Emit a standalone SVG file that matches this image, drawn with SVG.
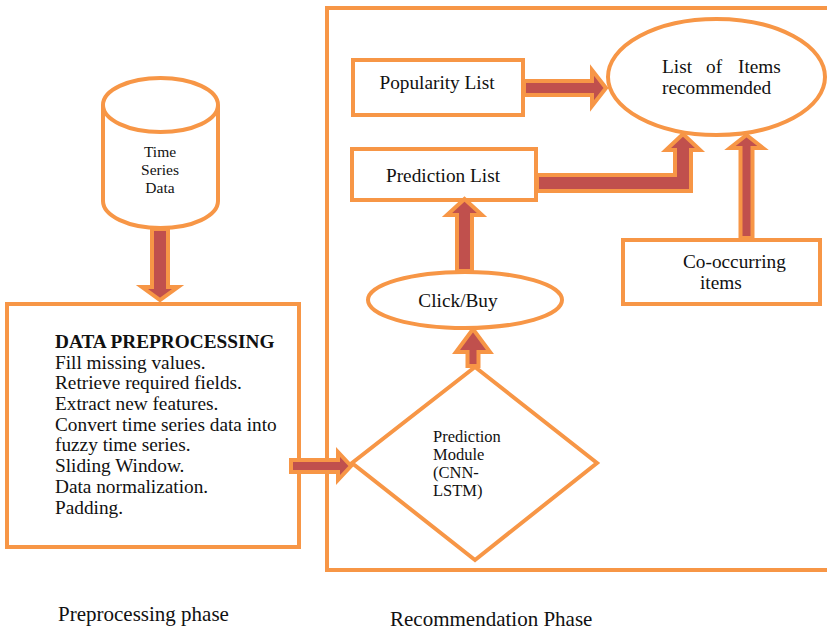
<svg xmlns="http://www.w3.org/2000/svg" width="827" height="631" viewBox="0 0 827 631">
<style>
.shape{fill:#fff;stroke:#F79646;stroke-width:4}
.frame{fill:none;stroke:#F79646;stroke-width:4}
.arrow{fill:#C0504D;stroke:#F79646;stroke-width:4;stroke-linejoin:miter}
text{font-family:"Liberation Serif","Times New Roman",serif;fill:#111}
.t19{font-size:19.3px}
.t16{font-size:16.5px}
.t15{font-size:15.5px}
.cap{font-size:21px}
</style>
<rect x="0" y="0" width="827" height="631" fill="#fff"/>
<g id="recommendation-frame">
<rect class="frame" x="327" y="8" width="505" height="562"/>
</g>
<g id="time-series-data">
<path class="shape" d="M103,105 L103,201 A57.5,27 0 0 0 218,201 L218,105"/>
<ellipse class="shape" cx="160.5" cy="105" rx="57.5" ry="27"/>
<text class="t15" text-anchor="middle" x="160" y="157">Time</text>
<text class="t15" text-anchor="middle" x="160" y="175">Series</text>
<text class="t15" text-anchor="middle" x="160" y="193">Data</text>
</g>
<g id="data-preprocessing">
<rect class="shape" x="7" y="304" width="292" height="243"/>
<text class="t19" x="55" y="348" font-weight="bold">DATA PREPROCESSING</text>
<text class="t19" x="55" y="369">Fill missing values.</text>
<text class="t19" x="55" y="389">Retrieve required fields.</text>
<text class="t19" x="55" y="410">Extract new features.</text>
<text class="t19" x="55" y="431">Convert time series data into</text>
<text class="t19" x="55" y="451">fuzzy time series.</text>
<text class="t19" x="55" y="472">Sliding Window.</text>
<text class="t19" x="55" y="493">Data normalization.</text>
<text class="t19" x="55" y="514">Padding.</text>
</g>
<g id="prediction-module">
<polygon class="shape" points="475,367 597,463 475,560 352,463"/>
<text class="t16" x="433" y="442">Prediction</text>
<text class="t16" x="433" y="460">Module</text>
<text class="t16" x="433" y="478">(CNN-</text>
<text class="t16" x="433" y="496">LSTM)</text>
</g>
<g id="click-buy">
<ellipse class="shape" cx="465" cy="300" rx="97" ry="28"/>
<text class="t19" text-anchor="middle" x="458" y="307">Click/Buy</text>
</g>
<g id="prediction-list">
<rect class="shape" x="352" y="149" width="184" height="51"/>
<text class="t19" text-anchor="middle" x="443" y="182">Prediction List</text>
</g>
<g id="popularity-list">
<rect class="shape" x="353" y="60" width="170" height="55"/>
<text class="t19" text-anchor="middle" x="437" y="89">Popularity List</text>
</g>
<g id="list-of-items">
<ellipse class="shape" cx="716.5" cy="77" rx="108.5" ry="58"/>
<text class="t19" x="662" y="73">List</text>
<text class="t19" x="706" y="73">of</text>
<text class="t19" x="738" y="73">Items</text>
<text class="t19" x="662" y="94">recommended</text>
</g>
<g id="co-occurring">
<rect class="shape" x="623" y="240" width="197" height="64"/>
<text class="t19" x="683" y="268">Co-occurring</text>
<text class="t19" x="700" y="289">items</text>
</g>
<g id="connectors">
<polygon class="arrow" points="152,229 168,229 168,287 178,287 160,300 142,287 152,287"/>
<polygon class="arrow" points="291,460 338,460 338,452 351,466 338,480 338,472 291,472"/>
<polygon class="arrow" points="467.5,366 467.5,352 456,352 473,329 490,352 478.5,352 478.5,366"/>
<polygon class="arrow" points="457,271 457,215 447,215 464.5,199 482,215 472,215 472,271"/>
<polygon class="arrow" points="524,81 592,81 592,70 606,88 592,106 592,95 524,95"/>
<polygon class="arrow" points="537,175 675,175 675,150 666,150 683,134 700,150 691,150 691,191 537,191"/>
<polygon class="arrow" points="740.5,238 740.5,148 730,148 746.5,135 763,148 752.5,148 752.5,238"/>
</g>
<text class="cap" x="58" y="621">Preprocessing phase</text>
<text class="cap" x="390" y="626">Recommendation Phase</text>
</svg>
